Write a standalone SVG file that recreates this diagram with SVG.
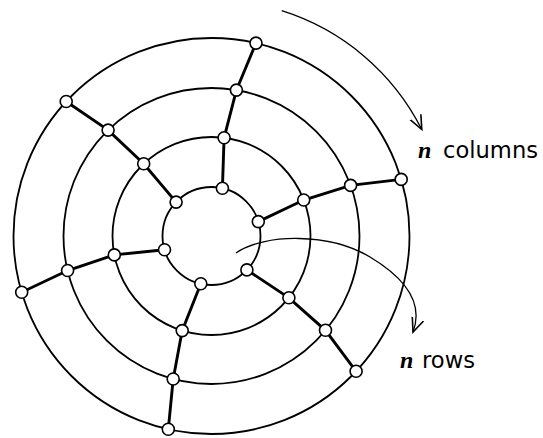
<svg xmlns="http://www.w3.org/2000/svg" width="543" height="438" viewBox="0 0 543 438">
<style>
.ring{fill:none;stroke:#000;stroke-width:1.8}
.spoke{fill:none;stroke:#000;stroke-width:2.9;stroke-linecap:round}
.arrow{fill:none;stroke:#000;stroke-width:1.3}
.node{fill:#fff;stroke:#000;stroke-width:1.6}
.lbl{font-family:"DejaVu Sans","Liberation Sans",sans-serif;font-size:22.5px;fill:#000}
.var{font-family:"Liberation Serif","DejaVu Serif",serif;font-style:italic;font-weight:bold;font-size:24px;fill:#000}
</style>
<defs>
<marker id="ah" markerUnits="userSpaceOnUse" markerWidth="20" markerHeight="20" refX="0" refY="0" viewBox="-14 -10 20 20" orient="auto">
<path d="M-14,-6 L0,0 L-14,6" fill="none" stroke="#000" stroke-width="1.6"/>
</marker>
</defs>
<g id="connectors">
<circle class="ring" cx="211.5" cy="236" r="49"/>
<circle class="ring" cx="211.5" cy="236" r="99"/>
<circle class="ring" cx="211.5" cy="236" r="148"/>
<circle class="ring" cx="211.5" cy="236" r="198"/>
<polyline class="spoke" points="222.4,188.2 224.1,137.8 236.4,90.1 256,43.1"/>
<polyline class="spoke" points="258.3,221.6 303.7,200 350.6,185.4 401.2,179.4"/>
<polyline class="spoke" points="246.9,269.9 288.9,297.8 325.5,330.3 356.1,371.3"/>
<polyline class="spoke" points="200.8,283.8 182.2,330.6 173.2,379 168.3,429.2"/>
<polyline class="spoke" points="164.5,249.8 114.3,254.9 67.6,270.5 21.7,292.2"/>
<polyline class="spoke" points="176.1,202.1 143.7,163.8 108.1,130.1 66.2,101.5"/>
<path class="arrow" d="M281.7,10.7 A236,236 0 0 1 421.8,129.5" marker-end="url(#ah)"/>
<path class="arrow" d="M236,253 C265,233 330,233 370,257 C400,275 425,300 413,332" marker-end="url(#ah)"/>
</g>
<g id="n-inner-1"><circle class="node" cx="222.4" cy="188.2" r="6"/></g>
<g id="n-inner-2"><circle class="node" cx="258.3" cy="221.6" r="6"/></g>
<g id="n-inner-3"><circle class="node" cx="246.9" cy="269.9" r="6"/></g>
<g id="n-inner-4"><circle class="node" cx="200.8" cy="283.8" r="6"/></g>
<g id="n-inner-5"><circle class="node" cx="164.5" cy="249.8" r="6"/></g>
<g id="n-inner-6"><circle class="node" cx="176.1" cy="202.1" r="6"/></g>
<g id="n-r2-1"><circle class="node" cx="224.1" cy="137.8" r="6"/></g>
<g id="n-r2-2"><circle class="node" cx="303.7" cy="200" r="6"/></g>
<g id="n-r2-3"><circle class="node" cx="288.9" cy="297.8" r="6"/></g>
<g id="n-r2-4"><circle class="node" cx="182.2" cy="330.6" r="6"/></g>
<g id="n-r2-5"><circle class="node" cx="114.3" cy="254.9" r="6"/></g>
<g id="n-r2-6"><circle class="node" cx="143.7" cy="163.8" r="6"/></g>
<g id="n-r3-1"><circle class="node" cx="236.4" cy="90.1" r="6"/></g>
<g id="n-r3-2"><circle class="node" cx="350.6" cy="185.4" r="6"/></g>
<g id="n-r3-3"><circle class="node" cx="325.5" cy="330.3" r="6"/></g>
<g id="n-r3-4"><circle class="node" cx="173.2" cy="379" r="6"/></g>
<g id="n-r3-5"><circle class="node" cx="67.6" cy="270.5" r="6"/></g>
<g id="n-r3-6"><circle class="node" cx="108.1" cy="130.1" r="6"/></g>
<g id="n-outer-1"><circle class="node" cx="256" cy="43.1" r="6"/></g>
<g id="n-outer-2"><circle class="node" cx="401.2" cy="179.4" r="6"/></g>
<g id="n-outer-3"><circle class="node" cx="356.1" cy="371.3" r="6"/></g>
<g id="n-outer-4"><circle class="node" cx="168.3" cy="429.2" r="6"/></g>
<g id="n-outer-5"><circle class="node" cx="21.7" cy="292.2" r="6"/></g>
<g id="n-outer-6"><circle class="node" cx="66.2" cy="101.5" r="6"/></g>
<g id="label-columns">
<text class="var" x="418" y="158">n</text>
<text class="lbl" x="443" y="158" textLength="95" lengthAdjust="spacingAndGlyphs">columns</text>
</g>
<g id="label-rows">
<text class="var" x="400" y="368">n</text>
<text class="lbl" x="422" y="368" textLength="53" lengthAdjust="spacingAndGlyphs">rows</text>
</g>
</svg>
